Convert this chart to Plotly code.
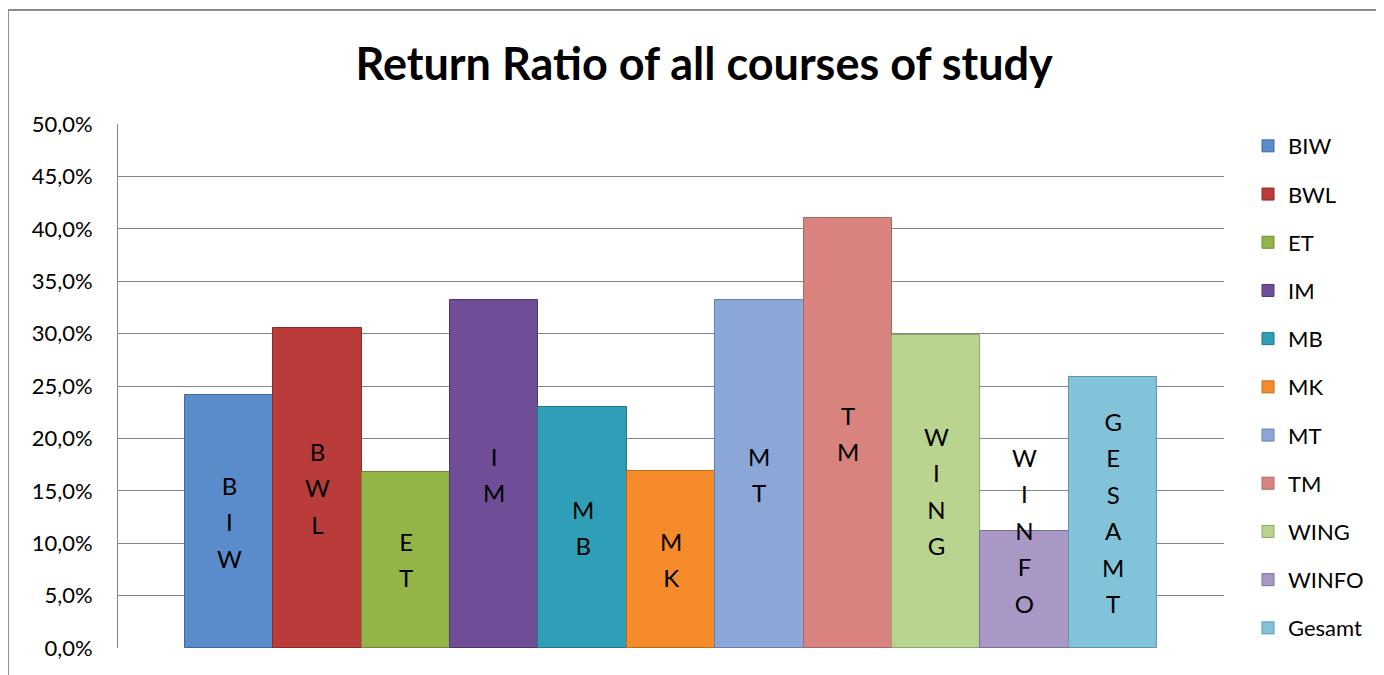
import plotly.graph_objects as go

# ---- data ----
courses = ["BIW", "BWL", "ET", "IM", "MB", "MK", "MT", "TM", "WING", "WINFO", "Gesamt"]
bar_labels = ["BIW", "BWL", "ET", "IM", "MB", "MK", "MT", "TM", "WING", "WINFO", "GESAMT"]
return_ratio = [0.241, 0.305, 0.168, 0.332, 0.230, 0.169, 0.332, 0.410, 0.299, 0.112, 0.259]
colors = ["#5a8bcb", "#b93c3a", "#93b548", "#6f4d97", "#2f9fb7", "#f58b2b",
          "#8aa7d7", "#d9837f", "#b9d48f", "#a997c6", "#82c3da"]
edge_colors = ["#3f6aa0", "#8a2a28", "#6f8a33", "#513672", "#217789", "#c06a1c",
               "#6580ad", "#a86663", "#8ea66c", "#7f6f99", "#5e97ab"]
y_ticks = [0.0, 0.05, 0.10, 0.15, 0.20, 0.25, 0.30, 0.35, 0.40, 0.45, 0.50]

FONT = "Lato"
LETTER_H = 36 / 10.48 / 100  # approx data height of one stacked letter line

fig = go.Figure()
for i, (name, val) in enumerate(zip(courses, return_ratio)):
    fig.add_trace(go.Bar(
        x=[name], y=[val], name=name, legendgroup=name,
        marker=dict(color=colors[i], line=dict(color=edge_colors[i], width=1)),
        hoverinfo="name+y",
    ))
    label = bar_labels[i]
    fits = len(label) * LETTER_H < val
    ylab = val / 2 if fits else val
    txt = "<br>".join(f"<span style='font-size:24px'>{c}</span>" for c in label)
    fig.add_annotation(x=name, y=ylab, text=txt, showarrow=False,
                       font=dict(family=FONT, size=28, color="#000000"),
                       xanchor="center", yanchor="middle")

# outer chart border (page body has an 8px offset, compensated via margins)
fig.add_shape(type="rect", xref="paper", yref="paper",
              x0=-0.0995, x1=1.25, y0=-0.2, y1=1.2176,
              line=dict(color="#8c8c8c", width=2), fillcolor="rgba(0,0,0,0)",
              layer="below")

fig.update_layout(
    width=1384, height=675,
    margin=dict(l=110, r=168, t=116, b=35),
    paper_bgcolor="white", plot_bgcolor="white",
    separators=",.",
    barmode="overlay", bargap=0,
    title=dict(text="<b>Return Ratio of all courses of study</b>",
               font=dict(family=FONT, size=45, color="#000000"),
               x=0.503, xanchor="center", y=1 - 56 / 675, yanchor="middle"),
    font=dict(family=FONT, size=20, color="#000000"),
    showlegend=True,
    legend=dict(x=1.0217, xanchor="left", y=0.998, yanchor="top",
                font=dict(family=FONT, size=22, color="#000000"),
                traceorder="grouped", tracegroupgap=16.6, maxheight=675,
                bgcolor="rgba(0,0,0,0)", itemclick=False),
    xaxis=dict(type="category", categoryorder="array", categoryarray=courses,
               range=[-1.258, 10.5 + 0.758], showticklabels=False,
               showgrid=False, zeroline=False, showline=False, fixedrange=True),
    yaxis=dict(range=[0, 0.5], tickvals=y_ticks, tickformat=".1%",
               showgrid=True, gridcolor="#868686", gridwidth=1,
               zeroline=False, showline=True, linecolor="#868686", linewidth=1,
               ticks="", ticklabelstandoff=20,
               tickfont=dict(family=FONT, size=22, color="#000000")),
)

fig.write_html("out.html")
